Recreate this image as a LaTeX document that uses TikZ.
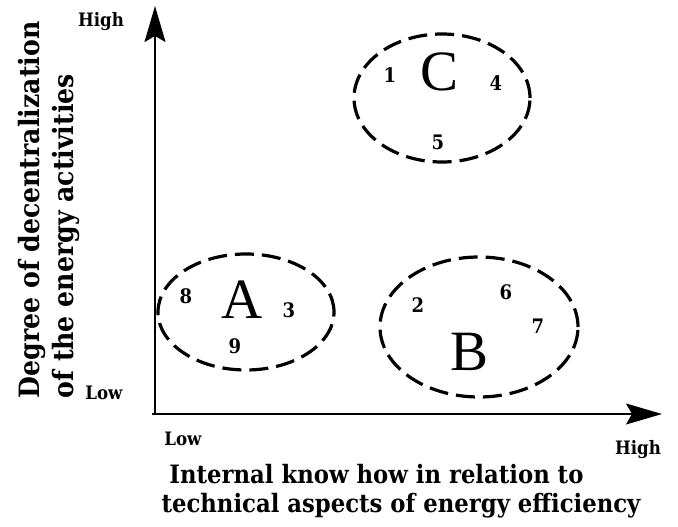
\documentclass[tikz,border=0pt]{standalone}
\usepackage{fontspec}
\setmainfont{DejaVu Serif}[FakeStretch=0.9]
\newfontfamily\letterfont{Liberation Serif}
\usetikzlibrary{arrows.meta,shapes.geometric}
\tikzset{
  group/.style={ellipse,draw,line width=3.2pt,dash pattern=on 19pt off 8pt,inner sep=0pt},
  num/.style={font=\bfseries\fontsize{20}{20}\selectfont},
  grp/.style={font=\letterfont\fontsize{57}{57}\selectfont},
  lvl/.style={font=\bfseries\fontsize{18.5}{18.5}\selectfont},
  axtitle/.style={font=\bfseries\fontsize{25.3}{29}\selectfont,align=left}
}
\begin{document}
\begin{tikzpicture}[x=1pt,y=-1pt]
  \useasboundingbox (0,0) rectangle (678,527);
  \coordinate (o) at (155,414);
  \coordinate (ytop) at (155,6);
  \coordinate (xend) at (662,414);
  \draw[line width=1.6pt,-{Stealth[length=36pt,width=21pt,inset=6pt]}] (o) -- (ytop);
  \draw[line width=1.6pt,-{Stealth[length=36pt,width=21pt,inset=6pt]}] (152,414) -- (xend);
  \node[lvl] (yhigh) at (101,22) {High};
  \node[lvl] (ylow) at (104,393) {Low};
  \node[lvl] (xlow) at (183,439) {Low};
  \node[lvl] (xhigh) at (638,450) {High};
  \node[axtitle,font=\bfseries\fontsize{28}{34}\selectfont,rotate=90] (ytitle) at (49,210) {Degree of decentralization\\of the energy activities};
  \node[axtitle] (xtitle) at (401,491) {\ Internal know how in relation to\\technical aspects of energy efficiency};
  \node[group,minimum width=176pt,minimum height=116pt] (grpA) at (246,312) {};
  \node[group,minimum width=198pt,minimum height=140pt] (grpB) at (479,327) {};
  \node[group,minimum width=176pt,minimum height=128pt] (grpC) at (442,98) {};
  \node[grp] (lA) at (242,300) {A};
  \node[grp] (lB) at (470,352) {B};
  \node[grp] (lC) at (440,72) {C};
  \foreach \n/\px/\py in {1/390/75,4/496/83,5/438/142,8/186/296,3/289/310,9/235/346,2/418/305,6/506/292,7/538/326}
    \node[num] (n\n) at (\px,\py) {\n};
\end{tikzpicture}
\end{document}
